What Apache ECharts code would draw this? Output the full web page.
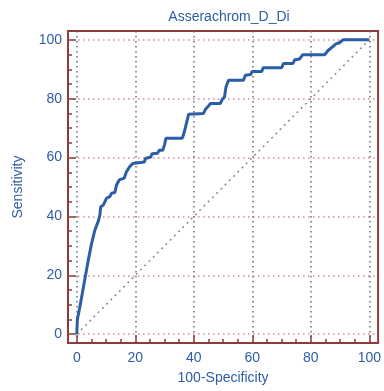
<!DOCTYPE html>
<html>
<head>
<meta charset="utf-8">
<script src="https://cdn.jsdelivr.net/npm/echarts@6/dist/echarts.min.js"></script>
<style>
  html, body { margin: 0; padding: 0; background: #fff; }
  #main { width: 384px; height: 391px; }
</style>
</head>
<body>
<div id="main"></div>
<script>
// Tick values for both axes
const majorTicks = [0, 20, 40, 60, 80, 100];
const minorTicks = [5, 10, 15, 25, 30, 35, 45, 50, 55, 65, 70, 75, 85, 90, 95];

// Reference (chance) line
const diagonal = [[0, 0], [100, 100]];

// ROC curve, [100-Specificity, Sensitivity]
const rocCurve = [
  [0, 0], [0.2, 0.5], [0.2, 5], [1, 9], [2, 14.5], [3, 20], [4, 25.5], [5, 30.5],
  [6.2, 35.4], [6.8, 36], [7.4, 38.5], [7.9, 40.5], [8.2, 43.3], [9.1, 43.9],
  [10.2, 46.2], [11.3, 46.7], [11.9, 47.9], [13, 48.1], [13.6, 50.7], [14.5, 52.4],
  [16.2, 53], [16.9, 55], [18, 56.8], [19.1, 58], [19.7, 58.5], [23.1, 58.5],
  [23.5, 59.7], [25.3, 60.2], [25.7, 61.3], [27.6, 61.5], [28.2, 62.5], [29.4, 62.5],
  [30, 64.4], [30.5, 66.6], [36.1, 66.6], [36.7, 68.5], [37.2, 70.5], [37.8, 73],
  [38.2, 74.7], [43.3, 75], [44, 76.4], [45.1, 77.6], [45.7, 78.4], [49.1, 78.4],
  [49.7, 79.7], [50.5, 80.6], [51, 84], [51.9, 86.3], [57, 86.3], [57.6, 88],
  [59.5, 88.2], [59.9, 89.2], [63.2, 89.2], [63.7, 90.5], [70, 90.5], [70.7, 92],
  [73.9, 92], [74.5, 93.2], [76.2, 93.5], [77.2, 94.9], [84.7, 94.9], [85.3, 95.6],
  [85.8, 96.3], [87.5, 97.7], [88.6, 98.6], [89.8, 99], [91, 100], [100, 100]
];

const blue = '#2c5ea6';
const brown = '#8e3b3b';

const chart = echarts.init(document.getElementById('main'));

const minorAxis = {
  type: 'value',
  min: -3,
  max: 103,
  axisLine: { show: false, onZero: false },
  axisLabel: { show: false },
  splitLine: { show: false },
  axisTick: {
    inside: true,
    length: 4,
    customValues: minorTicks,
    lineStyle: { color: brown, width: 1.5 }
  }
};

const option = {
  backgroundColor: '#fff',
  animation: false,
  title: {
    text: 'Asserachrom_D_Di',
    left: 224,
    top: 5,
    textAlign: 'center',
    textStyle: { color: blue, fontSize: 14, fontWeight: 'normal', fontFamily: 'Liberation Sans' }
  },
  grid: {
    left: 68,
    right: 4,
    top: 31,
    bottom: 48,
    show: true,
    borderColor: brown,
    borderWidth: 2
  },
  xAxis: [
    {
      type: 'value',
      min: -3,
      max: 103,
      position: 'bottom',
      name: '100-Specificity',
      nameLocation: 'middle',
      nameGap: 28,
      nameTextStyle: { color: blue, fontSize: 14, fontFamily: 'Liberation Sans' },
      axisLine: { show: false, onZero: false },
      axisTick: {
        inside: true,
        length: 8,
        customValues: majorTicks,
        lineStyle: { color: brown, width: 1.5 }
      },
      axisLabel: {
        customValues: majorTicks,
        color: blue,
        fontSize: 14,
        margin: 8,
        fontFamily: 'Liberation Sans'
      },
      splitLine: {
        show: true,
        lineStyle: { color: '#6e6e6e', type: [1.5, 3.5], width: 1.5 }
      }
    },
    Object.assign({ position: 'bottom' }, minorAxis)
  ],
  yAxis: [
    {
      type: 'value',
      min: -3,
      max: 103,
      position: 'left',
      name: 'Sensitivity',
      nameLocation: 'middle',
      nameGap: 43,
      nameTextStyle: { color: blue, fontSize: 14, fontFamily: 'Liberation Sans' },
      axisLine: { show: false, onZero: false },
      axisTick: {
        inside: true,
        length: 8,
        customValues: majorTicks,
        lineStyle: { color: brown, width: 1.5 }
      },
      axisLabel: {
        customValues: majorTicks,
        color: blue,
        fontSize: 14,
        margin: 6,
        fontFamily: 'Liberation Sans'
      },
      splitLine: {
        show: true,
        lineStyle: { color: '#d9898b', type: [1.5, 3.5], width: 1.5 }
      }
    },
    Object.assign({ position: 'left' }, minorAxis)
  ],
  series: [
    {
      type: 'line',
      data: diagonal,
      showSymbol: false,
      silent: true,
      lineStyle: { color: '#8a8a8a', type: [2, 4], width: 1.5 }
    },
    {
      type: 'line',
      data: rocCurve,
      showSymbol: false,
      lineStyle: { color: blue, width: 3 }
    }
  ]
};

chart.setOption(option);
</script>
</body>
</html>
